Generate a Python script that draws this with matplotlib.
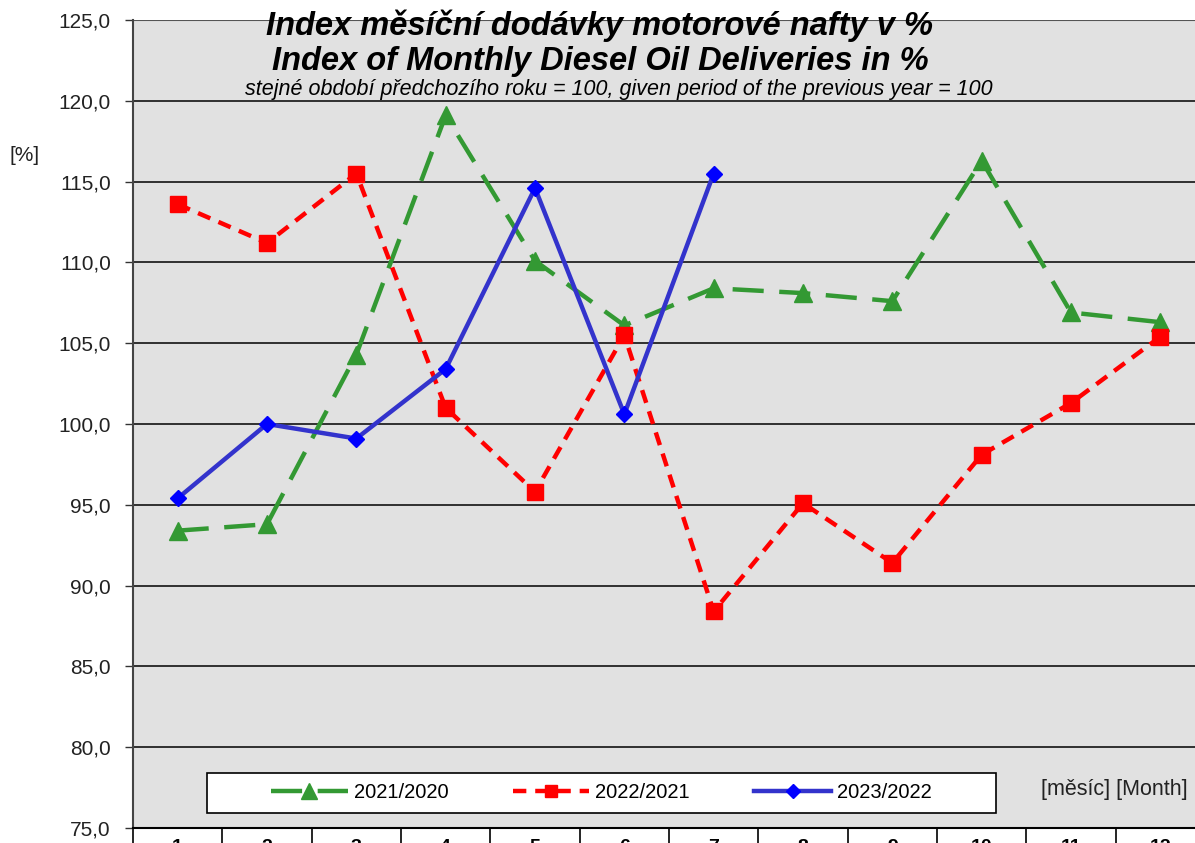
import matplotlib
matplotlib.use('Agg')
import matplotlib.pyplot as plt
from matplotlib.lines import Line2D
from matplotlib.patches import Rectangle

plt.rcParams['font.family'] = ['Liberation Sans', 'DejaVu Sans']

months = [1, 2, 3, 4, 5, 6, 7, 8, 9, 10, 11, 12]
idx_2021 = [93.4, 93.8, 104.3, 119.1, 110.1, 106.1, 108.4, 108.1, 107.6, 116.3, 106.9, 106.3]
idx_2022 = [113.6, 111.2, 115.5, 101.0, 95.8, 105.5, 88.4, 95.1, 91.4, 98.1, 101.3, 105.4]
idx_2023 = [95.4, 100.0, 99.1, 103.4, 114.6, 100.6, 115.5]
y_ticks = [75, 80, 85, 90, 95, 100, 105, 110, 115, 120, 125]
labels = ['2021/2020', '2022/2021', '2023/2022']

fig = plt.figure(figsize=(11.95, 8.43), dpi=100)
ax = fig.add_axes([133/1195, 15/843, 1072/1195, 808/843])
ax.set_facecolor('#e1e1e1')

ax.plot(months, idx_2021, color='#339933', lw=3.2, dashes=(7, 3.5),
        marker='^', ms=13, label=labels[0])
ax.plot(months, idx_2022, color='#ff0000', lw=3.2, dashes=(3, 2),
        marker='s', ms=11, label=labels[1])
ax.plot(months[:len(idx_2023)], idx_2023, color='#3333cc', lw=3.2,
        marker='D', ms=8, mfc='#0000ff', mec='#0000ff', label=labels[2])

ax.set_xlim(0.5, 12.5)
ax.set_ylim(75, 125)
ax.set_yticks(y_ticks)
ax.set_yticklabels([('%.1f' % v).replace('.', ',') for v in y_ticks], fontsize=15, color='#222222')
ax.yaxis.grid(True, color='black', lw=1.1)
ax.set_axisbelow(True)
ax.tick_params(axis='y', length=6, width=1, color='#333333', pad=10)

ax.set_xticks(months)
ax.set_xticklabels([str(m) for m in months], fontsize=14, fontweight='bold')
ax.set_xticks([m + 0.5 for m in range(0, 13)], minor=True)
ax.tick_params(axis='x', which='major', length=0, pad=8)
ax.tick_params(axis='x', which='minor', length=20, width=1.2, color='black')

for s in ['top', 'right']:
    ax.spines[s].set_visible(False)
ax.spines['left'].set_color('#444444')
ax.spines['left'].set_linewidth(1.5)
ax.spines['bottom'].set_color('black')
ax.spines['bottom'].set_linewidth(1.5)
ax.axhline(125, color='#555555', lw=1.5)

fig.text(0.502, 0.969, 'Index měsíční dodávky motorové nafty v %', ha='center', va='center',
         fontsize=23.5, fontweight='bold', style='italic')
fig.text(0.502, 0.927, 'Index of Monthly Diesel Oil Deliveries in %', ha='center', va='center',
         fontsize=23.5, fontweight='bold', style='italic')
fig.text(0.518, 0.894, 'stejné období předchozího roku = 100, given period of the previous year = 100',
         ha='center', va='center', fontsize=15.5, style='italic')
fig.text(0.008, 0.816, '[%]', ha='left', va='center', fontsize=15, color='#222222')
fig.text(0.871, 0.063, '[měsíc] [Month]', ha='left', va='center', fontsize=15.5, color='#222222')

# legend box drawn separately, entries centred inside
box = (74/1072, 15/808, 789/1072, 40/808)
ax.add_patch(Rectangle(box[:2], box[2], box[3], transform=ax.transAxes, facecolor='white',
                       edgecolor='black', lw=1.2, zorder=5))
handles = [Line2D([], [], color='#339933', lw=3.2, dashes=(7, 3.5), marker='^', ms=11),
           Line2D([], [], color='#ff0000', lw=3.2, dashes=(3, 2), marker='s', ms=9),
           Line2D([], [], color='#3333cc', lw=3.2, marker='D', ms=7, mfc='#0000ff', mec='#0000ff')]
leg = ax.legend(handles, labels, ncol=3, loc='center',
                bbox_to_anchor=(box[0] + box[2]/2, box[1] + box[3]/2), frameon=False,
                fontsize=14.5, handlelength=3.8, handletextpad=0.3, columnspacing=3.2,
                borderaxespad=0)
leg.set_zorder(6)

fig.savefig('out.png', dpi=100)
